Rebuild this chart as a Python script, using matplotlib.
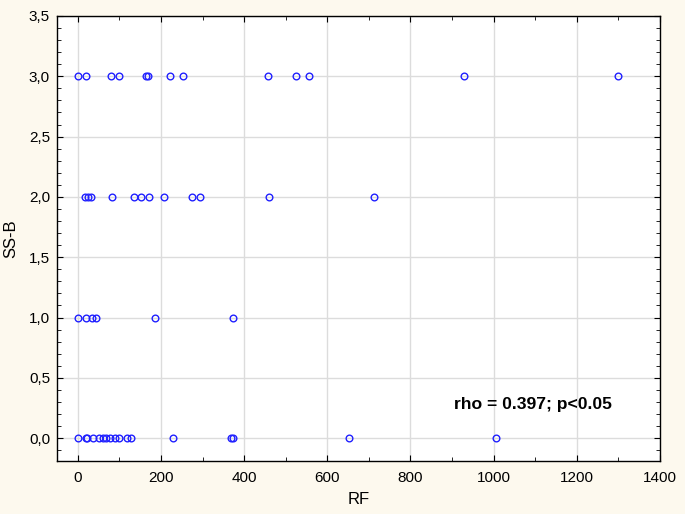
import numpy as np
import matplotlib.pyplot as plt
from matplotlib.ticker import MultipleLocator, FuncFormatter

# Data (RF vs SS-B score)
rf_3 = [0, 19, 79, 98, 165, 169, 222, 254, 458, 525, 556, 928, 1298]
rf_2 = [18, 24, 31, 82, 135, 151, 172, 207, 275, 294, 460, 713]
rf_1 = [0, 19, 34, 43, 185, 374]
rf_0 = [0, 19, 23, 36, 50, 61, 68, 77, 90, 98, 119, 127, 230, 368, 373, 652, 1005]

rf = np.array(rf_3 + rf_2 + rf_1 + rf_0)
ssb = np.array([3] * len(rf_3) + [2] * len(rf_2) + [1] * len(rf_1) + [0] * len(rf_0))

plt.rcParams['font.family'] = ['Liberation Sans', 'DejaVu Sans']

fig = plt.figure(figsize=(6.85, 5.14), dpi=100)
fig.patch.set_facecolor('#fdf9ee')
ax = fig.add_axes([0.0832, 0.103, 0.8803, 0.866])

ax.plot(rf, ssb, 'o', mfc='none', mec='#2020ff', ms=4.8, mew=1.0, zorder=3)

ax.set_xlim(-50, 1400)
ax.set_ylim(-0.19, 3.5)
ax.xaxis.set_major_locator(MultipleLocator(200))
ax.xaxis.set_minor_locator(MultipleLocator(100))
ax.yaxis.set_major_locator(MultipleLocator(0.5))
ax.yaxis.set_minor_locator(MultipleLocator(0.1))
ax.yaxis.set_major_formatter(FuncFormatter(lambda v, p: f'{v:.1f}'.replace('.', ',')))

ax.grid(True, which='major', color='#dcdcdc', lw=1.0, zorder=0)
ax.tick_params(which='both', direction='in', top=True, right=True, labelsize=11, color='black')
ax.tick_params(which='major', length=4)
ax.tick_params(which='minor', length=3)
ax.tick_params(axis='x', pad=7)
ax.tick_params(axis='y', pad=5)
for s in ax.spines.values():
    s.set_linewidth(1.0)

ax.set_xlabel('RF', fontsize=12, labelpad=5)
ax.set_ylabel('SS-B', fontsize=12, labelpad=8)

ax.text(905, 0.28, 'rho = 0.397; p<0.05', fontsize=12.6, fontweight='bold', va='center')

fig.savefig('out.png', dpi=100, facecolor=fig.get_facecolor())
